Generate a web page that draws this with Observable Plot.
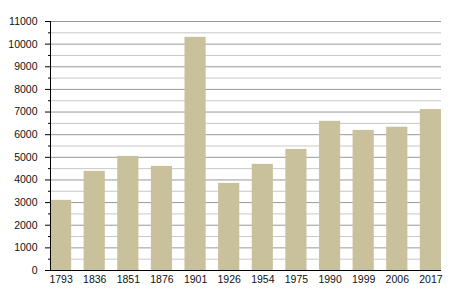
<!DOCTYPE html>
<html>
<head>
<meta charset="utf-8">
<script src="https://cdn.jsdelivr.net/npm/d3@7"></script>
<script src="https://cdn.jsdelivr.net/npm/@observablehq/plot@0.6"></script>
<style>
  html, body { margin: 0; padding: 0; background: #fff; }
  #chart svg { display: block; }
</style>
</head>
<body>
<div id="chart"></div>
<script>
const years = ["1793","1836","1851","1876","1901","1926","1954","1975","1990","1999","2006","2017"];
const population = [3100, 4380, 5040, 4600, 10300, 3850, 4690, 5350, 6590, 6190, 6330, 7110];
const majorTicks = [0,1000,2000,3000,4000,5000,6000,7000,8000,9000,10000,11000];
const minorTicks = [500,1500,2500,3500,4500,5500,6500,7500,8500,9500,10500];

const data = years.map((y, i) => ({year: y, value: population[i]}));

const plot = Plot.plot({
  width: 450,
  height: 300,
  marginLeft: 50,
  marginRight: 9,
  marginTop: 21,
  marginBottom: 30,
  style: {fontFamily: "'Liberation Sans', Arial, sans-serif", fontSize: "10px", color: "#000", background: "#fff"},
  x: {domain: years, paddingInner: 0.37, paddingOuter: 0, round: false, label: null},
  y: {domain: [0, 11000], label: null},
  marks: [
    Plot.ruleY(minorTicks, {stroke: "#c8c8c8", strokeWidth: 1}),
    Plot.ruleY(majorTicks.slice(1), {stroke: "#999", strokeWidth: 1}),
    Plot.barY(data, {x: "year", y: "value", fill: "#c9c19b"}),
    Plot.axisY(majorTicks, {tickSize: 5, tickPadding: 8, tickFormat: d3.format("d"), stroke: "#000", fill: "#111", fontSize: 10.5}),
    Plot.axisY(minorTicks, {tickSize: 2, text: null, stroke: "#000"}),
    Plot.axisX({tickSize: 0, tickPadding: 5, fill: "#111", fontSize: 10.5}),
    Plot.frame({anchor: "left", stroke: "#000"}),
    Plot.ruleY([0], {stroke: "#000", strokeWidth: 1.2})
  ]
});
document.getElementById("chart").append(plot);
</script>
</body>
</html>
